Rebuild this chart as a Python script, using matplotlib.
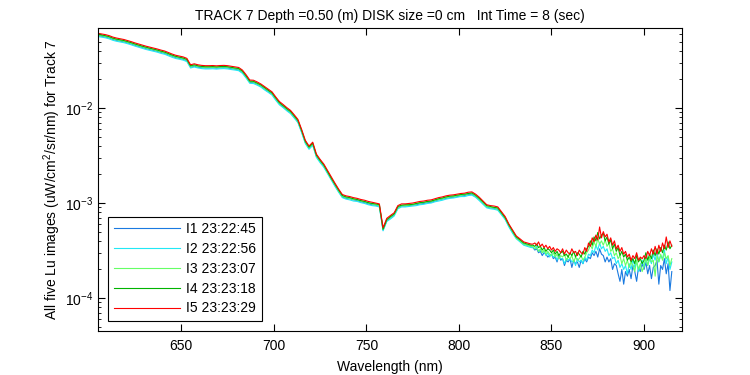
import numpy as np
import matplotlib
matplotlib.use("Agg")
import matplotlib.pyplot as plt
from matplotlib.ticker import LogLocator, NullFormatter, MultipleLocator

plt.rcParams["font.family"] = ["Liberation Sans", "DejaVu Sans"]
plt.rcParams["axes.unicode_minus"] = False
plt.rcParams["mathtext.fontset"] = "custom"
plt.rcParams["mathtext.rm"] = "Liberation Sans"

# wavelength grid (nm): 2 nm steps up to 839, then 1 nm steps in the noisy tail
wavelength = np.concatenate([np.arange(605, 840, 2), np.arange(840, 916, 1)])

# Lu values in units of 1e-4 uW/cm^2/sr/nm
lu_i1 = [577, 569, 559, 546, 527, 515, 506, 497, 485, 472,
         457, 445, 433, 422, 413, 404, 395, 385, 376, 363,
         350, 339, 333, 326, 315, 269, 276, 269, 266, 264,
         264, 265, 263, 265, 266, 264, 260, 256, 252, 237,
         212, 186, 185, 178, 169, 159, 149, 140, 124, 111,
         103, 95.4, 89.2, 80.2, 71.7, 56.3, 43.2, 37.6, 41.3, 30.9,
         27.2, 24.3, 20.8, 17.8, 15.3, 13.2, 11.6, 11.2, 11.1, 10.8,
         10.6, 10.3, 10.1, 9.8, 9.6, 9.5, 9.3, 5.2, 6.5, 7.0,
         7.5, 8.9, 9.3, 9.3, 9.4, 9.5, 9.6, 9.8, 9.9, 10.1,
         10.2, 10.5, 10.8, 11.0, 11.2, 11.4, 11.5, 11.7, 11.9, 12.0,
         12.3, 12.4, 11.7, 10.9, 9.9, 9.1, 8.9, 8.8, 8.6, 7.7,
         6.8, 5.7, 4.9, 4.3, 4.0, 3.7, 3.6, 3.5,
         3.4, 3.2, 3.3, 3.0, 3.1, 2.8, 3.0, 2.9, 2.7, 2.8,
         2.9, 2.6, 2.7, 2.4, 2.8, 2.5, 2.6, 2.2, 2.5, 2.4,
         2.6, 2.1, 2.5, 2.3, 2.4, 2.1, 2.5, 2.3, 2.6, 2.4,
         2.7, 2.6, 3.0, 2.8, 3.1, 2.7, 3.3, 2.9, 2.8, 2.4,
         2.7, 2.4, 2.6, 2.0, 2.3, 2.2, 1.8, 1.5, 2.0, 1.4,
         1.9, 1.7, 2.0, 1.6, 2.2, 1.9, 1.5, 2.1, 1.9, 2.3,
         2.0, 2.4, 1.8, 2.2, 1.6, 2.1, 2.2, 2.5, 1.4, 2.2,
         2.0, 2.6, 1.8, 2.3, 1.2, 1.9]

lu_i2 = [565, 557, 548, 535, 516, 504, 495, 487, 475, 462,
         448, 436, 424, 413, 404, 396, 387, 376, 368, 355,
         342, 332, 326, 319, 308, 264, 270, 264, 260, 258,
         258, 259, 257, 259, 260, 258, 254, 251, 247, 232,
         207, 182, 181, 174, 166, 155, 146, 137, 121, 108,
         101, 93.4, 87.3, 78.5, 70.2, 55.1, 42.3, 36.8, 40.4, 30.2,
         26.6, 23.8, 20.4, 17.4, 15.0, 13.0, 11.4, 11.0, 10.8, 10.5,
         10.4, 10.1, 9.9, 9.6, 9.4, 9.3, 9.1, 5.1, 6.4, 6.8,
         7.3, 8.7, 9.1, 9.1, 9.2, 9.3, 9.4, 9.6, 9.7, 9.9,
         10.0, 10.3, 10.5, 10.7, 11.0, 11.2, 11.3, 11.5, 11.7, 11.7,
         12.0, 12.1, 11.5, 10.6, 9.7, 8.9, 8.7, 8.6, 8.4, 7.5,
         6.7, 5.6, 4.8, 4.2, 3.9, 3.6, 3.5, 3.4,
         3.4, 3.3, 3.5, 3.1, 3.2, 3.0, 3.1, 2.8, 3.0, 2.7,
         2.9, 2.7, 2.8, 2.5, 2.7, 2.6, 2.6, 2.3, 2.6, 2.5,
         2.6, 2.4, 2.5, 2.2, 2.6, 2.4, 2.5, 2.3, 2.7, 2.5,
         2.9, 2.8, 3.2, 3.0, 3.6, 3.2, 3.8, 3.3, 3.5, 3.1,
         3.3, 2.8, 3.0, 2.6, 2.7, 2.3, 2.5, 2.1, 2.3, 2.0,
         2.2, 1.8, 2.3, 2.0, 2.6, 2.1, 2.4, 1.9, 2.2, 2.5,
         2.1, 2.7, 2.2, 2.6, 2.3, 2.9, 2.5, 3.1, 2.4, 2.8,
         2.6, 3.2, 2.3, 2.7, 2.0, 2.4]

lu_i3 = [587, 578, 568, 555, 536, 523, 514, 505, 492, 479,
         465, 452, 440, 429, 420, 411, 401, 391, 382, 369,
         355, 345, 338, 331, 320, 274, 280, 274, 270, 268,
         268, 269, 267, 269, 270, 268, 264, 260, 256, 241,
         215, 189, 188, 180, 172, 161, 152, 142, 126, 112,
         105, 97.0, 90.6, 81.5, 72.9, 57.2, 43.9, 38.2, 42.0, 31.4,
         27.6, 24.7, 21.1, 18.0, 15.6, 13.4, 11.8, 11.4, 11.2, 10.9,
         10.8, 10.5, 10.3, 10.0, 9.8, 9.6, 9.4, 5.3, 6.6, 7.1,
         7.6, 9.0, 9.4, 9.4, 9.5, 9.6, 9.8, 10.0, 10.1, 10.3,
         10.4, 10.7, 10.9, 11.1, 11.4, 11.6, 11.7, 11.9, 12.1, 12.2,
         12.5, 12.6, 11.9, 11.0, 10.1, 9.2, 9.0, 8.9, 8.7, 7.8,
         6.9, 5.8, 5.0, 4.3, 4.0, 3.7, 3.6, 3.5,
         3.5, 3.3, 3.4, 3.1, 3.3, 3.0, 3.2, 2.9, 3.1, 2.9,
         2.8, 3.0, 2.7, 2.9, 2.6, 2.8, 2.7, 2.9, 2.5, 2.7,
         2.6, 2.8, 2.4, 2.7, 2.5, 2.6, 2.8, 2.5, 2.7, 3.0,
         3.2, 3.6, 3.3, 3.9, 3.5, 4.2, 3.7, 4.0, 3.6, 4.1,
         3.5, 3.8, 3.1, 3.3, 2.8, 3.0, 2.6, 2.8, 2.3, 2.6,
         2.2, 2.5, 2.1, 2.4, 2.2, 1.9, 2.5, 2.0, 2.3, 1.9,
         2.2, 2.6, 2.2, 2.7, 2.4, 2.5, 1.7, 2.8, 2.4, 2.9,
         2.5, 3.0, 2.6, 2.8, 2.2, 2.6]

lu_i4 = [596, 587, 577, 564, 544, 531, 522, 513, 500, 487,
         472, 459, 447, 436, 426, 417, 408, 397, 388, 374,
         361, 350, 343, 336, 325, 278, 285, 278, 274, 272,
         272, 273, 271, 273, 274, 272, 268, 264, 260, 245,
         218, 192, 191, 183, 175, 164, 154, 144, 128, 114,
         106, 98.5, 92.0, 82.8, 74.0, 58.1, 44.6, 38.8, 42.6, 31.9,
         28.1, 25.1, 21.5, 18.3, 15.8, 13.7, 12.0, 11.6, 11.4, 11.1,
         10.9, 10.6, 10.4, 10.1, 9.9, 9.8, 9.6, 5.3, 6.7, 7.2,
         7.7, 9.2, 9.5, 9.6, 9.6, 9.7, 9.9, 10.1, 10.2, 10.4,
         10.5, 10.8, 11.1, 11.3, 11.6, 11.8, 11.9, 12.1, 12.3, 12.4,
         12.6, 12.8, 12.1, 11.2, 10.3, 9.4, 9.2, 9.0, 8.9, 7.9,
         7.0, 5.9, 5.1, 4.4, 4.1, 3.8, 3.7, 3.6,
         3.6, 3.5, 3.7, 3.4, 3.5, 3.2, 3.4, 3.1, 3.3, 3.2,
         3.0, 3.2, 2.9, 3.1, 2.8, 3.0, 3.1, 2.8, 2.9, 2.7,
         3.0, 2.8, 3.1, 2.7, 3.0, 2.9, 2.7, 3.1, 2.9, 3.3,
         3.5, 4.0, 3.6, 4.4, 4.0, 4.9, 4.2, 4.6, 4.8, 4.0,
         4.4, 3.7, 4.1, 3.3, 3.7, 3.1, 3.4, 2.8, 3.1, 2.7,
         2.9, 2.5, 2.7, 2.4, 2.6, 2.3, 2.8, 2.4, 2.6, 2.3,
         2.5, 3.0, 2.5, 2.9, 2.6, 3.2, 2.8, 3.3, 2.9, 3.4,
         3.0, 3.6, 3.2, 3.9, 3.3, 3.6]

lu_i5 = [611, 602, 592, 578, 558, 545, 535, 526, 513, 499,
         484, 471, 458, 447, 437, 428, 418, 407, 398, 384,
         370, 359, 352, 345, 333, 285, 292, 285, 281, 279,
         279, 280, 278, 280, 281, 279, 275, 271, 267, 251,
         224, 197, 196, 188, 179, 168, 158, 148, 131, 117,
         109, 101, 94.4, 84.9, 75.9, 59.6, 45.7, 39.8, 43.7, 32.7,
         28.8, 25.7, 22.0, 18.8, 16.2, 14.0, 12.3, 11.9, 11.7, 11.4,
         11.2, 10.9, 10.7, 10.4, 10.2, 10.0, 9.8, 5.5, 6.9, 7.4,
         7.9, 9.4, 9.8, 9.8, 9.9, 10.0, 10.2, 10.4, 10.5, 10.7,
         10.8, 11.1, 11.4, 11.6, 11.9, 12.1, 12.2, 12.4, 12.6, 12.7,
         13.0, 13.1, 12.4, 11.5, 10.5, 9.6, 9.4, 9.3, 9.1, 8.1,
         7.2, 6.0, 5.2, 4.5, 4.2, 3.9, 3.8, 3.7,
         3.7, 3.8, 3.6, 3.9, 3.5, 3.7, 3.4, 3.6, 3.3, 3.5,
         3.2, 3.4, 3.1, 3.3, 3.2, 3.0, 3.3, 2.9, 3.2, 3.0,
         2.9, 3.3, 3.0, 3.1, 2.8, 3.2, 3.0, 2.9, 3.4, 3.1,
         3.8, 3.5, 4.3, 3.9, 4.6, 4.1, 5.6, 4.3, 5.0, 4.4,
         4.7, 3.9, 4.3, 3.6, 4.0, 3.3, 3.6, 3.1, 3.4, 2.9,
         3.1, 2.7, 2.9, 2.5, 2.8, 2.6, 3.0, 2.5, 2.7, 2.6,
         2.8, 2.6, 3.1, 2.8, 3.3, 2.9, 3.5, 2.9, 3.6, 3.1,
         3.8, 3.3, 4.4, 3.4, 4.0, 3.5]

labels = ["I1 23:22:45", "I2 23:22:56", "I3 23:23:07", "I4 23:23:18", "I5 23:23:29"]
colors = ["#1a7ae0", "#22e8f5", "#66ff66", "#00b400", "#ff0000"]

fig = plt.figure(figsize=(7.5, 3.75), dpi=100)
ax = fig.add_axes([0.1307, 0.1173, 0.7786, 0.808])

for vals, lab, col in zip([lu_i1, lu_i2, lu_i3, lu_i4, lu_i5], labels, colors):
    n = min(len(vals), len(wavelength))
    ax.plot(wavelength[:n], np.array(vals[:n]) * 1e-4, color=col, lw=0.8, label=lab)

ax.set_yscale("log")
ax.set_xlim(605, 920.5)
ax.set_ylim(4.5e-5, 0.0695)
ax.xaxis.set_major_locator(MultipleLocator(50))
ax.yaxis.set_major_locator(LogLocator(base=10, numticks=10))
ax.yaxis.set_minor_locator(LogLocator(base=10, subs=np.arange(2, 10), numticks=10))
ax.yaxis.set_minor_formatter(NullFormatter())
ax.tick_params(which="both", direction="in", top=True, right=True, labelsize=10)
ax.tick_params(axis="x", pad=6)
ax.tick_params(which="major", length=5)
ax.tick_params(which="minor", length=2.5)

ax.set_title("TRACK 7 Depth =0.50 (m) DISK size =0 cm   Int Time = 8 (sec)", fontsize=10, pad=6)
ax.set_xlabel("Wavelength (nm)", fontsize=10, labelpad=5)
ax.set_ylabel("All five Lu images (uW/cm$^2$/sr/nm) for Track 7", fontsize=10, labelpad=1)

leg = ax.legend(loc="lower left", bbox_to_anchor=(0.017, 0.033), borderaxespad=0,
                fontsize=10, handlelength=4.8, handletextpad=0.45, labelspacing=0.42,
                fancybox=False, edgecolor="black", framealpha=1)
leg.get_frame().set_linewidth(0.8)

fig.savefig("out.png", dpi=100)
